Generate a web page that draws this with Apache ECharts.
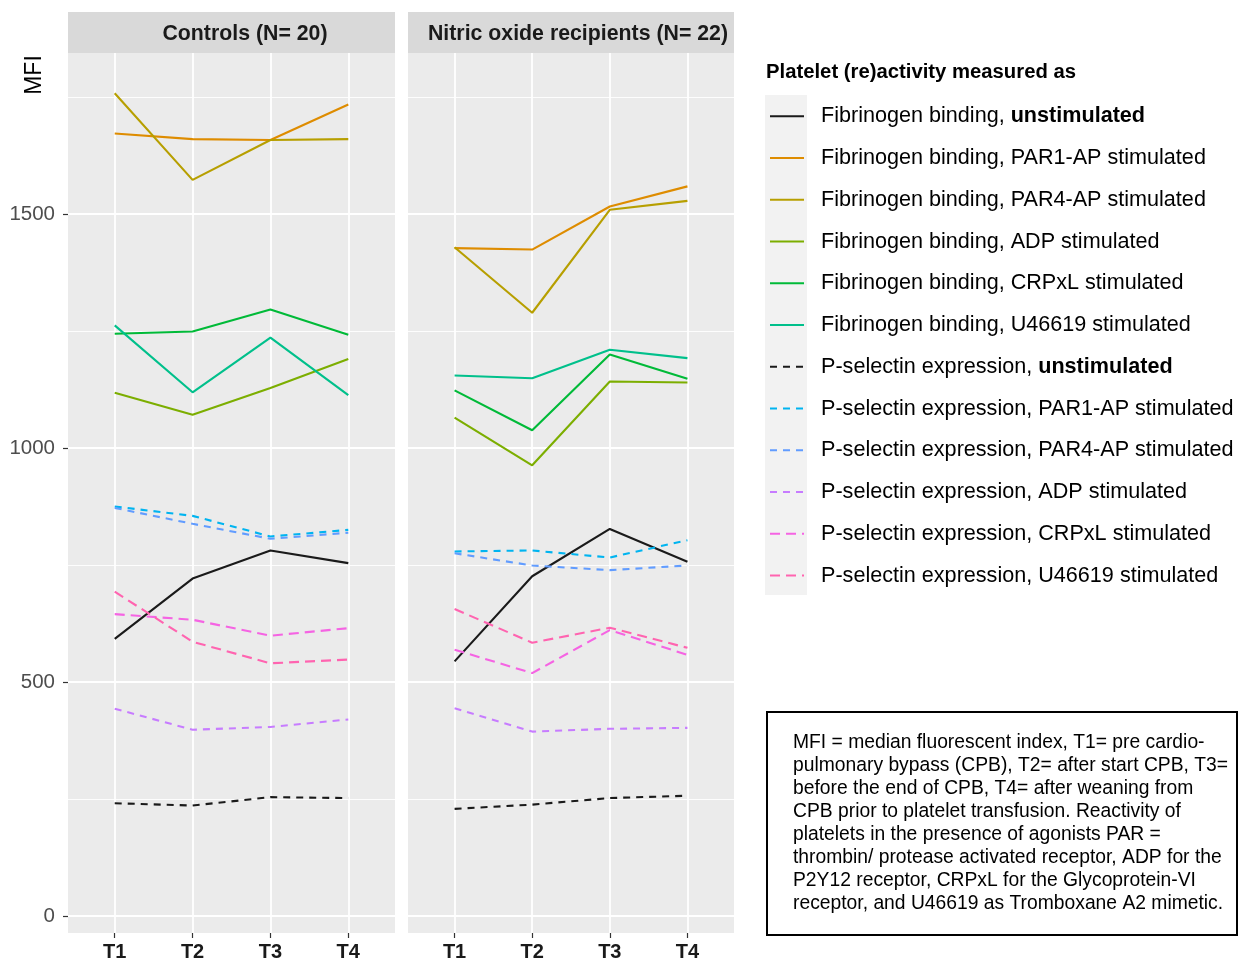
<!DOCTYPE html>
<html>
<head>
<meta charset="utf-8">
<script src="https://cdn.jsdelivr.net/npm/echarts@6/dist/echarts.min.js"></script>
<style>
  html, body { margin: 0; padding: 0; background: #fff; }
  #chart { width: 1238px; height: 962px; }
</style>
</head>
<body>
<div id="chart"></div>
<script>
// Time points
const timepoints = ['T1', 'T2', 'T3', 'T4'];

// Panels
const panelTitles = ['Controls (N= 20)', 'Nitric oxide recipients (N= 22)'];

// Series names (legend order)
const seriesNames = [
  'Fibrinogen binding, unstimulated',
  'Fibrinogen binding, PAR1-AP stimulated',
  'Fibrinogen binding, PAR4-AP stimulated',
  'Fibrinogen binding, ADP stimulated',
  'Fibrinogen binding, CRPxL stimulated',
  'Fibrinogen binding, U46619 stimulated',
  'P-selectin expression, unstimulated',
  'P-selectin expression, PAR1-AP stimulated',
  'P-selectin expression, PAR4-AP stimulated',
  'P-selectin expression, ADP stimulated',
  'P-selectin expression, CRPxL stimulated',
  'P-selectin expression, U46619 stimulated'
];

// Median MFI, controls
const ctrlFibUnstim = [592, 721, 781, 754];
const ctrlFibPar1   = [1672, 1660, 1658, 1734];
const ctrlFibPar4   = [1758, 1573, 1658, 1660];
const ctrlFibAdp    = [1118, 1071, 1128, 1190];
const ctrlFibCrp    = [1244, 1249, 1296, 1242];
const ctrlFibU466   = [1262, 1119, 1236, 1113];
const ctrlPsUnstim  = [241, 236, 254, 252];
const ctrlPsPar1    = [875, 855, 811, 825];
const ctrlPsPar4    = [872, 838, 806, 819];
const ctrlPsAdp     = [443, 398, 404, 420];
const ctrlPsCrp     = [645, 633, 599, 615];
const ctrlPsU466    = [693, 586, 540, 548];

// Median MFI, nitric oxide recipients
const noFibUnstim = [544, 726, 827, 757];
const noFibPar1   = [1427, 1424, 1516, 1559];
const noFibPar4   = [1429, 1289, 1509, 1528];
const noFibAdp    = [1065, 963, 1142, 1140];
const noFibCrp    = [1123, 1038, 1200, 1148];
const noFibU466   = [1155, 1149, 1210, 1192];
const noPsUnstim  = [229, 238, 252, 257];
const noPsPar1    = [779, 781, 766, 803];
const noPsPar4    = [775, 749, 739, 749];
const noPsAdp     = [444, 394, 400, 402];
const noPsCrp     = [569, 519, 611, 558];
const noPsU466    = [656, 584, 616, 573];

// Y axis tick labels
const yMajorTicks = [0, 500, 1000, 1500];
const yMinorTicks = [250, 750, 1250, 1750];

const panelValues = [
  [ctrlFibUnstim, ctrlFibPar1, ctrlFibPar4, ctrlFibAdp, ctrlFibCrp, ctrlFibU466,
   ctrlPsUnstim, ctrlPsPar1, ctrlPsPar4, ctrlPsAdp, ctrlPsCrp, ctrlPsU466],
  [noFibUnstim, noFibPar1, noFibPar4, noFibAdp, noFibCrp, noFibU466,
   noPsUnstim, noPsPar1, noPsPar4, noPsAdp, noPsCrp, noPsU466]
];

const colors = ['#1a1a1a', '#DE8C00', '#B79F00', '#7CAE00', '#00BA38', '#00C08B',
                '#1a1a1a', '#00B4F0', '#619CFF', '#C77CFF', '#F564E3', '#FF64B0'];
const dashes = ['solid', 'solid', 'solid', 'solid', 'solid', 'solid',
                [7, 6], [7, 6], [7, 6], [7, 6], [10, 6], [10, 6]];

const FONT = '"Liberation Sans", Arial, Helvetica, sans-serif';

// Panel geometry
const panels = [
  { left: 68, width: 327, titleX: 245 },
  { left: 408, width: 326, titleX: 578 }
];
const PANEL_TOP = 53, PANEL_BOTTOM = 933;
const Y_MIN = -36.3, Y_MAX = 1844;

const grids = [], xAxes = [], yAxes = [], series = [];
panels.forEach((p, i) => {
  grids.push({
    left: p.left, top: PANEL_TOP, width: p.width, height: PANEL_BOTTOM - PANEL_TOP,
    show: true, backgroundColor: '#EBEBEB', borderWidth: 0
  });
  xAxes.push({
    type: 'value', gridIndex: i, min: -0.6, max: 3.6, position: 'bottom',
    axisLine: { show: false, onZero: false },
    axisTick: { show: true, length: 5, lineStyle: { color: '#333333', width: 1.2 }, customValues: [0, 1, 2, 3] },
    axisLabel: {
      show: true, customValues: [0, 1, 2, 3], margin: 9,
      formatter: v => timepoints[Math.round(v)] || '',
      color: '#1a1a1a', fontFamily: FONT, fontSize: 20, fontWeight: 'bold'
    },
    splitLine: { show: true, lineStyle: { color: '#ffffff', width: 1.8 } }
  });
  // major y grid with labels
  yAxes.push({
    type: 'value', gridIndex: i, min: Y_MIN, max: Y_MAX, position: 'left',
    axisLine: { show: false, onZero: false },
    axisTick: { show: i === 0, length: 5, lineStyle: { color: '#333333', width: 1.2 }, customValues: yMajorTicks },
    axisLabel: {
      show: i === 0, customValues: yMajorTicks, margin: 13,
      formatter: v => String(v),
      color: '#4D4D4D', fontFamily: FONT, fontSize: 20.5
    },
    splitLine: { show: true, lineStyle: { color: '#ffffff', width: 1.8 } }
  });
});
// minor y grid lines
panels.forEach((p, i) => {
  yAxes.push({
    type: 'value', gridIndex: i, min: Y_MIN, max: Y_MAX, position: 'left',
    axisLine: { show: false, onZero: false },
    axisTick: { show: false, customValues: yMinorTicks },
    axisLabel: { show: false, customValues: yMinorTicks },
    splitLine: { show: true, lineStyle: { color: '#ffffff', width: 0.9 } }
  });
});

panelValues.forEach((group, pi) => {
  group.forEach((vals, si) => {
    series.push({
      name: seriesNames[si],
      type: 'line',
      xAxisIndex: pi, yAxisIndex: pi,
      symbol: 'none',
      silent: true,
      z: 5,
      color: colors[si],
      lineStyle: { color: colors[si], width: 2.1, type: dashes[si] },
      data: vals.map((v, k) => [k, v])
    });
  });
});

const noteText = [
  'MFI = median fluorescent index, T1= pre cardio-',
  'pulmonary bypass (CPB), T2= after start CPB, T3=',
  'before the end of CPB, T4= after weaning from',
  'CPB prior to platelet transfusion. Reactivity of',
  'platelets in the presence of agonists PAR =',
  'thrombin/ protease activated receptor, ADP for the',
  'P2Y12 receptor, CRPxL for the Glycoprotein-VI',
  'receptor, and U46619 as Tromboxane A2 mimetic.'
].join('\n');

const graphics = [];
panels.forEach((p, i) => {
  graphics.push({
    type: 'rect', z: -10,
    shape: { x: p.left, y: 12, width: p.width, height: 41 },
    style: { fill: '#D9D9D9' }
  });
  graphics.push({
    type: 'text', z: 10,
    x: p.titleX, y: 34,
    style: {
      text: panelTitles[i], fill: '#1a1a1a', font: 'bold 21.3px ' + FONT,
      textAlign: 'center', textVerticalAlign: 'middle'
    }
  });
});
// y axis title
graphics.push({
  type: 'text', x: 35, y: 75, rotation: Math.PI / 2,
  style: { text: 'MFI', fill: '#000', font: '23px ' + FONT, textAlign: 'center', textVerticalAlign: 'middle' }
});
// legend title
graphics.push({
  type: 'text', x: 766, y: 72.5,
  style: { text: 'Platelet (re)activity measured as', fill: '#000', font: 'bold 20.3px ' + FONT, textVerticalAlign: 'middle' }
});
// legend key background
graphics.push({
  type: 'rect', z: -10,
  shape: { x: 765, y: 95, width: 42, height: 500 },
  style: { fill: '#F2F2F2' }
});
// note box
graphics.push({
  type: 'rect',
  shape: { x: 767, y: 712, width: 470, height: 223 },
  style: { fill: '#ffffff', stroke: '#000000', lineWidth: 2 }
});
graphics.push({
  type: 'text', x: 793, y: 731.5,
  style: { text: noteText, fill: '#000', font: '19.3px ' + FONT, lineHeight: 23, textVerticalAlign: 'top' }
});

const chart = echarts.init(document.getElementById('chart'), null, { renderer: 'canvas' });
chart.setOption({
  backgroundColor: '#ffffff',
  animation: false,
  grid: grids,
  xAxis: xAxes,
  yAxis: yAxes,
  legend: {
    orient: 'vertical',
    left: 769, top: 104.3, padding: 0,
    itemWidth: 34, itemHeight: 24, itemGap: 17.75,
    selectedMode: false,
    data: seriesNames,
    itemStyle: { opacity: 0, borderWidth: 0 },
    formatter: name => name.replace('unstimulated', '{b|unstimulated}'),
    textStyle: {
      color: '#000', fontFamily: FONT, fontSize: 21.6, lineHeight: 24,
      padding: [0, 0, 0, 12],
      rich: { b: { fontWeight: 'bold', fontFamily: FONT, fontSize: 21.6, lineHeight: 24, color: '#000' } }
    }
  },
  graphic: graphics,
  series: series
});
</script>
</body>
</html>
